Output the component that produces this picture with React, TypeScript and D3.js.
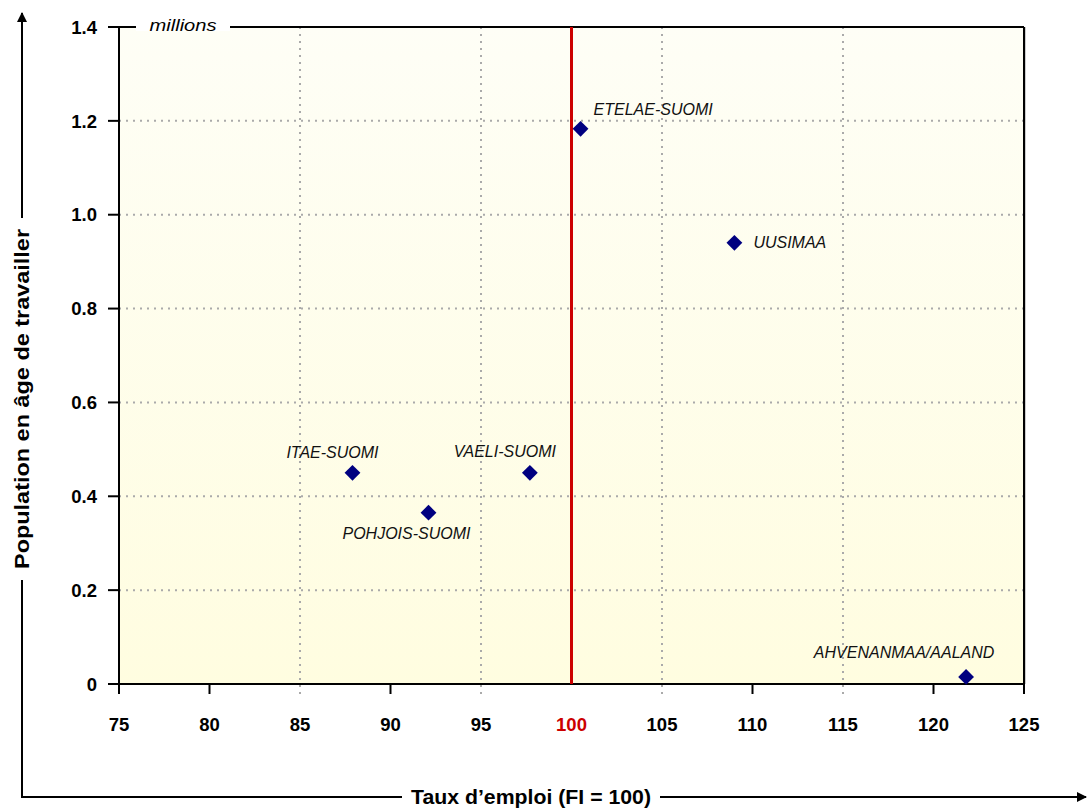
import React from 'react';
import * as d3 from 'd3';

// Regions of Finland: employment rate (FI = 100) vs working-age population (millions)
const regions = ['ITAE-SUOMI', 'VAELI-SUOMI', 'POHJOIS-SUOMI', 'ETELAE-SUOMI', 'UUSIMAA', 'AHVENANMAA/AALAND'];
const employmentRate = [87.9, 97.7, 92.1, 100.5, 109.0, 121.8];
const population = [0.45, 0.45, 0.365, 1.183, 0.94, 0.015];

const xTicks = [75, 80, 85, 90, 95, 100, 105, 110, 115, 120, 125];
const xGridTicks = [85, 95, 105, 115];
const xSolidTicks = [75, 80, 90, 110, 120, 125];
const yTicks = [0, 0.2, 0.4, 0.6, 0.8, 1.0, 1.2, 1.4];
const refValue = 100;

// label placement around each marker: [dx, dy, anchor]
const labelOffsets: Record<string, [number, number, string]> = {
    'ITAE-SUOMI': [-20, -15, 'middle'],
    'VAELI-SUOMI': [-25, -16, 'middle'],
    'POHJOIS-SUOMI': [-22, 26, 'middle'],
    'ETELAE-SUOMI': [13, -14, 'start'],
    'UUSIMAA': [19, 5, 'start'],
    'AHVENANMAA/AALAND': [-62, -19, 'middle'],
};

const W = 1088;
const H = 811;
const margin = { left: 119, right: 64, top: 27, bottom: 127 };
const FONT = '"Liberation Sans", Arial, sans-serif';

export default function App() {
    const x = d3.scaleLinear().domain([75, 125]).range([margin.left, W - margin.right]);
    const y = d3.scaleLinear().domain([0, 1.4]).range([H - margin.bottom, margin.top]);
    const [x0, x1] = x.range();
    const [y0, y1] = y.range();

    const diamond = d3.symbol().type(d3.symbolSquare).size(125)();
    const fmt = (v: number) => (v === 0 ? '0' : d3.format('.1f')(v));

    return (
        <svg width={W} height={H} style={{ position: 'absolute', left: 0, top: 0, background: '#fff' }} fontFamily={FONT}>
            <defs>
                <linearGradient id="bg" x1="0" y1="0" x2="0" y2="1">
                    <stop offset="0%" stopColor="#FEFEF6" />
                    <stop offset="100%" stopColor="#FFFDE0" />
                </linearGradient>
                <marker id="arrow" viewBox="0 0 10 10" refX="9" refY="5" markerWidth="5" markerHeight="5" orient="auto">
                    <path d="M0,0 L10,5 L0,10 Z" fill="#000" />
                </marker>
            </defs>

            {/* plot area */}
            <rect x={x0} y={y1} width={x1 - x0} height={y0 - y1} fill="url(#bg)" />

            {/* grid */}
            {yTicks.filter(t => t > 0 && t < 1.4).map(t => (
                <line key={'gy' + t} x1={x0} x2={x1} y1={y(t)} y2={y(t)} stroke="#aaa" strokeWidth={2} strokeDasharray="2,5" />
            ))}
            {xGridTicks.map(t => (
                <line key={'gx' + t} x1={x(t)} x2={x(t)} y1={y1} y2={y0 + 10} stroke="#aaa" strokeWidth={2} strokeDasharray="2,5" />
            ))}

            {/* frame */}
            <line x1={x1 + 1} x2={x1 + 1} y1={y1} y2={y0} stroke="#999" strokeWidth={1} />
            <line x1={x1} x2={x1} y1={y1} y2={y0 + 10} stroke="#000" strokeWidth={2} />
            <line x1={x0 - 11} x2={x1} y1={y1} y2={y1} stroke="#000" strokeWidth={2} />
            <line x1={x0} x2={x0} y1={y1} y2={y0 + 10} stroke="#000" strokeWidth={2} />
            <line x1={x0 - 11} x2={x1} y1={y0} y2={y0} stroke="#000" strokeWidth={2} />

            {/* reference line */}
            <line x1={x(refValue)} x2={x(refValue)} y1={y1} y2={y0} stroke="#CC0000" strokeWidth={3} />

            {/* y ticks */}
            {yTicks.map(t => (
                <g key={'ty' + t}>
                    <line x1={x0 - 11} x2={x0} y1={y(t)} y2={y(t)} stroke="#000" strokeWidth={2} />
                    <text x={x0 - 22} y={y(t)} dy="0.36em" textAnchor="end" fontSize={18.5} fontWeight="bold">{fmt(t)}</text>
                </g>
            ))}

            {/* x ticks */}
            {xSolidTicks.map(t => (
                <line key={'tx' + t} x1={x(t)} x2={x(t)} y1={y0} y2={y0 + 10} stroke="#000" strokeWidth={2} />
            ))}
            {xTicks.map(t => (
                <text key={'lx' + t} x={x(t)} y={y0 + 47} textAnchor="middle" fontSize={18.5} fontWeight="bold"
                    fill={t === refValue ? '#CC0000' : '#000'}>{t}</text>
            ))}

            {/* units label */}
            <rect x={x0 + 17} y={y1 - 10} width={94} height={14} fill="#fff" />
            <text x={x0 + 64} y={y1 + 4} textAnchor="middle" fontSize={17} fontStyle="italic"
                textLength={67} lengthAdjust="spacingAndGlyphs">millions</text>

            {/* points */}
            {regions.map((r, i) => {
                const px = x(employmentRate[i]);
                const py = y(population[i]);
                const [dx, dy, anchor] = labelOffsets[r];
                return (
                    <g key={r}>
                        <path d={diamond!} transform={`translate(${px},${py}) rotate(45)`} fill="#000080" />
                        <text x={px + dx} y={py + dy} textAnchor={anchor as any} fontSize={16} fontStyle="italic" fill="#111">{r}</text>
                    </g>
                );
            })}

            {/* y axis title with arrow */}
            <line x1={22} x2={22} y1={218} y2={13} stroke="#000" strokeWidth={2} markerEnd="url(#arrow)" />
            <line x1={22} x2={22} y1={580} y2={797} stroke="#000" strokeWidth={2} />
            <text transform={`translate(29,${399}) rotate(-90)`} textAnchor="middle" fontSize={20} fontWeight="bold"
                textLength={340} lengthAdjust="spacingAndGlyphs">Population en âge de travailler</text>

            {/* x axis title with arrow */}
            <line x1={21} x2={402} y1={797} y2={797} stroke="#000" strokeWidth={2} />
            <line x1={660} x2={1086} y1={797} y2={797} stroke="#000" strokeWidth={2} markerEnd="url(#arrow)" />
            <text x={531} y={804} textAnchor="middle" fontSize={20} fontWeight="bold"
                textLength={240} lengthAdjust="spacingAndGlyphs">Taux d’emploi (FI = 100)</text>
        </svg>
    );
}
